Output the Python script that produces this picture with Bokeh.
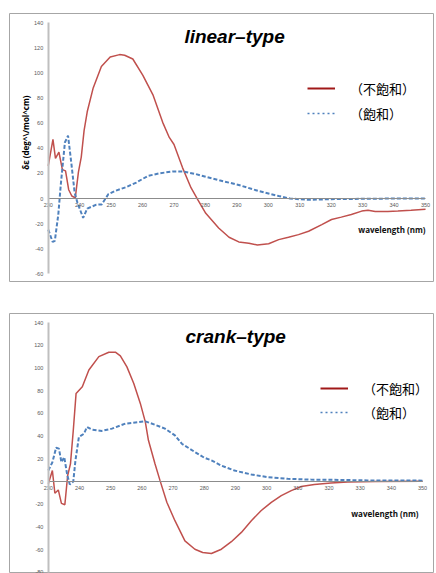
import math
from bokeh.plotting import figure
from bokeh.layouts import column
from bokeh.models import Range1d, FixedTicker, Label, Legend, LegendItem
from bokeh.embed import file_html
from bokeh.resources import INLINE

# ---------------- data ----------------
wl_ticks = list(range(230, 351, 10))
y_ticks_linear = list(range(-60, 141, 20))
y_ticks_crank = list(range(-80, 141, 20))

series_names = ["（不飽和）", "（飽和）"]
titles = ["linear–type", "crank–type"]
y_axis_title = "δε (deg^\\/mol^cm)"
x_axis_title = "wavelength (nm)"

# linear-type, unsaturated (red)
lin_unsat_wl = [230, 231.5, 232.3, 233.4, 234.5, 235.5, 236.5, 237.5, 238.6, 239.6, 240.5, 241.4,
                242.4, 244.3, 246.9, 249.7, 252.7, 254.3, 256.9, 260.1, 263.3, 266.4, 268.5, 270,
                272.7, 275.4, 277.5, 280.1, 284.2, 287.5, 290.6, 293.8, 296.5, 300.1, 303.3, 306.4,
                309.6, 312.8, 317, 320.1, 323.2, 326.4, 329.7, 331.7, 334, 338, 341.2, 345.4, 350]
lin_unsat_val = [26, 47, 32, 37, 23, 22, 7, 2, 0.5, 21, 33, 54,
                 69, 88, 105, 112.6, 114.5, 114, 111, 98, 82.5, 60.6, 48.6, 43,
                 24.6, 8.6, -0.6, -11.8, -23.4, -30.8, -34.5, -35.5, -37, -36, -32.7, -30.8,
                 -28.7, -26, -20.7, -16.7, -14.8, -12.7, -10, -9.3, -10.3, -10.3, -10, -9.3, -8.5]

# linear-type, saturated (blue)
lin_sat_wl = [230, 231.4, 232.1, 233.2, 234, 235.3, 236.3, 237.4, 238.4, 239.3, 241.1, 242.4,
              245.3, 247, 249.1, 251.2, 254.9, 258, 261.7, 265.4, 269.6, 272.8, 277, 280.1,
              284.4, 290.6, 296.9, 303.3, 306.9, 312.8, 320, 330, 340, 350]
lin_sat_val = [-24.7, -34.5, -33.6, -12.7, 11.3, 44.6, 50, 27, 4.6, -3.4, -15.4, -8,
               -4.9, -4.7, 3.4, 6, 9.2, 12.7, 18, 20.1, 21.5, 21.5, 19.4, 17.3,
               14.5, 10.8, 6, 2, 0, -1, -0.5, -0.2, 0, 0]

# crank-type, unsaturated (red)
crk_unsat_wl = [230, 231.3, 232.1, 233.2, 234.2, 235.3, 236.2, 237.1, 238, 238.9, 240.9, 243,
                246.2, 249.4, 251.5, 253.1, 255.2, 257.4, 259.5, 261.1, 262.1, 264.2, 265.8, 268,
                270.6, 273.8, 277, 279.5, 282.3, 285.5, 288.7, 291.9, 295.1, 298.2, 301.5, 304.7,
                307.9, 311.1, 315.3, 320.6, 326, 335, 350]
crk_unsat_val = [-2, 9.7, -10.3, -7.4, -19.2, -20.4, 5.3, 15.6, 45, 77.6, 83.5, 98.2,
                 110, 113.9, 113.9, 110.6, 101, 86.4, 68.8, 52.5, 36.3, 15.6, 1, -18.3,
                 -34.5, -52.2, -59.6, -62.5, -63.4, -59.6, -53, -44.8, -34.5, -25.7, -18.3, -12.4,
                 -8, -4.4, -2.6, -1.2, -0.4, 0, 0.3]

# crank-type, saturated (blue)
crk_sat_wl = [230, 231.3, 232.5, 233.4, 234.2, 235.1, 236.1, 236.9, 238, 238.7, 239.8, 241.4,
              242.4, 244, 247.2, 250.4, 254.7, 257.9, 261.1, 264.2, 267.4, 270.6, 272.8, 277,
              280, 282.3, 285.5, 289.7, 295.1, 300.4, 306.8, 314.2, 321.7, 332.3, 350]
crk_sat_val = [9.7, 17, 29.8, 29, 17, 21.5, 5.3, -2.7, 0, 18.6, 39.2, 42,
               48, 45.7, 44.6, 46.6, 51, 52, 53, 50, 46.6, 40.7, 33.3, 26,
               21, 18.6, 14, 9.7, 6.2, 3.8, 2.4, 1.7, 1.5, 1, 0.8]

RED = "#C0504D"
BLUE = "#4F81BD"
LEG_RED = "#A01818"
TICK_COLOR = "#595959"


def panel(width, height, borders, xr, yr, yticks, unsat, sat, title, title_xy,
          xlab_xy, leg_loc, leg_spacing, ylab_xy=None):
    left, right, top, bottom = borders
    p = figure(width=width, height=height, output_backend="svg", toolbar_location=None,
               x_range=Range1d(*xr), y_range=Range1d(*yr),
               min_border_left=left, min_border_right=right,
               min_border_top=top, min_border_bottom=bottom)
    p.xgrid.visible = False
    p.ygrid.visible = False
    p.outline_line_color = "#A6A6A6"
    p.outline_line_width = 1
    p.background_fill_color = "white"
    p.border_fill_color = "white"

    xa = p.xaxis[0]
    xa.fixed_location = 0
    xa.ticker = FixedTicker(ticks=wl_ticks)
    xa.bounds = (wl_ticks[0], wl_ticks[-1])
    xa.axis_line_color = "#8C8C8C"
    xa.axis_line_width = 1
    xa.major_tick_in = 0
    xa.major_tick_out = 0
    xa.minor_tick_line_color = None
    xa.major_label_standoff = 4
    xa.major_label_text_font = "Liberation Sans"
    xa.major_label_text_font_size = "5.5px"
    xa.major_label_text_color = TICK_COLOR
    xa.major_label_overrides = {t: str(t) for t in wl_ticks}

    ya = p.yaxis[0]
    ya.fixed_location = wl_ticks[0]
    ya.ticker = FixedTicker(ticks=yticks)
    ya.bounds = (yticks[0], yticks[-1])
    ya.axis_line_color = "#BFBFBF"
    ya.axis_line_width = 2
    ya.major_tick_in = 0
    ya.major_tick_out = 0
    ya.minor_tick_line_color = None
    ya.major_label_standoff = 5
    ya.major_label_text_font = "Liberation Sans"
    ya.major_label_text_font_size = "5.5px"
    ya.major_label_text_color = TICK_COLOR
    ya.major_label_overrides = {t: str(t) for t in yticks}

    p.line(unsat[0], unsat[1], line_color=RED, line_width=1.5)
    p.line(sat[0], sat[1], line_color=BLUE, line_width=2, line_dash="4 2")

    # legend sample renderers (one point each: draws nothing in the plot, styled like the legend)
    r1 = p.line(x=unsat[0][:1], y=unsat[1][:1], line_color=LEG_RED, line_width=2)
    r2 = p.line(x=sat[0][:1], y=sat[1][:1], line_color=BLUE, line_width=1.5, line_dash="2 3")
    leg = Legend(items=[LegendItem(label=series_names[0], renderers=[r1]),
                        LegendItem(label=series_names[1], renderers=[r2])],
                 location=leg_loc, orientation="vertical",
                 glyph_width=28, glyph_height=22, label_height=22,
                 label_standoff=15, spacing=leg_spacing, padding=0, margin=0,
                 border_line_color=None, background_fill_alpha=0,
                 label_text_font="Noto Sans CJK JP", label_text_font_size="13px",
                 label_text_color="black", label_text_baseline="middle")
    p.add_layout(leg)

    p.add_layout(Label(x=title_xy[0], y=title_xy[1], text=title,
                       text_font="Liberation Sans", text_font_style="bold italic",
                       text_font_size="19px", text_color="black",
                       text_align="left", text_baseline="alphabetic"))
    p.add_layout(Label(x=xlab_xy[0], y=xlab_xy[1], text=x_axis_title,
                       text_font="Open Sans", text_font_size="8px", text_color="#111111",
                       text_font_style="bold",
                       text_align="right", text_baseline="middle"))
    if ylab_xy is not None:
        p.add_layout(Label(x=ylab_xy[0], y=ylab_xy[1], text=y_axis_title, angle=math.pi / 2,
                           text_font="Open Sans", text_font_size="8px", text_color="black",
                           text_font_style="bold",
                           text_align="center", text_baseline="middle"))
    return p


# top panel (page px): frame 9..436 x 13..281 ; 230 -> x 48, 350 -> 428 ; 0 -> y 198, 1.257 px/unit
p1 = panel(436, 300, (9, 0, 13, 19),
           (217.68, 352.53), (-66.0, 147.2), y_ticks_linear,
           (lin_unsat_wl, lin_unsat_val), (lin_sat_wl, lin_sat_val),
           titles[0], (273.3, 129.3), (350.0, -24.7), (298, 157), 3,
           ylab_xy=(222.8, 52.5))

# bottom panel (page px): frame 7..433 x 313..573 ; 230 -> x 46, 350 -> 422 ; 0 -> y 481, 1.1357 px/unit
p2 = panel(436, 273, (7, 3, 13, 0),
           (217.55, 353.51), (-81.0, 148.0), y_ticks_crank,
           (crk_unsat_wl, crk_unsat_val), (crk_sat_wl, crk_sat_val),
           titles[1], (274.0, 128.1), (348.7, -28.2), (311, 150), 2)

layout = column(p1, p2, spacing=0)
open("out.html", "w").write(file_html(layout, INLINE))
